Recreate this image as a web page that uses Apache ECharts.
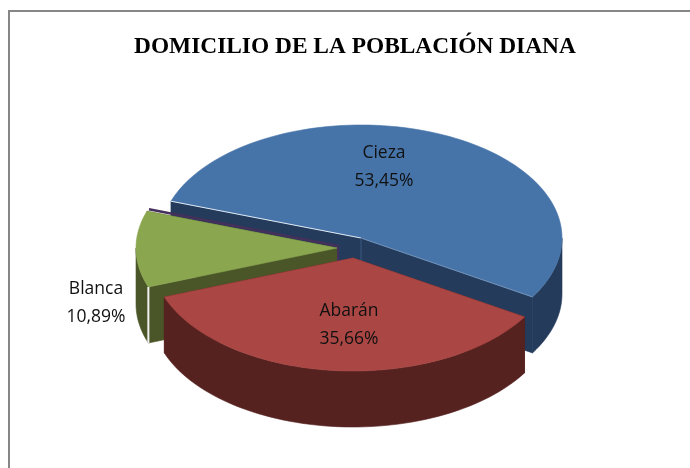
<!DOCTYPE html>
<html>
<head>
<meta charset="utf-8">
<title>Domicilio de la población Diana</title>
<style>
  html, body { margin: 0; padding: 0; background: #fff; }
  #chart { width: 690px; height: 468px; }
</style>
<script src="https://cdn.jsdelivr.net/npm/echarts@6/dist/echarts.min.js"></script>
</head>
<body>
<div id="chart"></div>
<script>
const chartTitle = 'DOMICILIO DE LA POBLACIÓN DIANA';
const categories = ['Cieza', 'Abarán', 'Blanca'];
const percentages = [53.45, 35.66, 10.89];

// the pie is drawn by hand because echarts has no 3d pie without echarts-gl
const radiusX = 201;
const radiusY = 113;
const depth = 56;
const startAngle = 161; // degrees, going clockwise

const sliceStyles = {
  Cieza:    { cx: 361, cy: 238, top: '#4674a9', side: '#243b5b', order: 0, labelX: 384, labelY: 167 },
  Blanca:   { cx: 337, cy: 248, top: '#8aa64f', side: '#4a5628', order: 1, labelX: 96, labelY: 303 },
  'Abarán': { cx: 353, cy: 258, top: '#aa4643', side: '#552220', order: 2, labelX: 349, labelY: 325 }
};

const total = percentages.reduce((a, b) => a + b, 0);

function rimPoint(s, deg, drop) {
  const r = deg * Math.PI / 180;
  return [s.cx + radiusX * Math.cos(r), s.cy - radiusY * Math.sin(r) + drop];
}

function arcPoints(s, from, to, drop) {
  const pts = [];
  const steps = Math.max(2, Math.ceil(Math.abs(from - to) / 2));
  for (let i = 0; i <= steps; i++) {
    pts.push(rimPoint(s, from + (to - from) * i / steps, drop));
  }
  return pts;
}

function polygon(points, fill, z2) {
  return {
    type: 'polygon', z2: z2, shape: { points: points },
    style: { fill: fill, stroke: fill, lineWidth: 0.6 }
  };
}

function edgeLine(a, b, color, width, z2) {
  return {
    type: 'line', z2: z2,
    shape: { x1: a[0], y1: a[1], x2: b[0], y2: b[1] },
    style: { stroke: color, lineWidth: width }
  };
}

function renderSlice(params, api) {
  const i = params.dataIndex;
  const name = categories[i];
  const s = sliceStyles[name];
  let before = 0;
  for (let k = 0; k < i; k++) before += api.value(1, k);
  const a0 = startAngle - before / total * 360;
  const a1 = a0 - api.value(1) / total * 360;
  const base = s.order * 10;
  const apex = [s.cx, s.cy];
  const apexLow = [s.cx, s.cy + depth];
  const p0 = rimPoint(s, a0, 0);
  const p1 = rimPoint(s, a1, 0);
  const children = [];

  // walls of the cut, then the outer rim on the front half, then the top
  children.push(polygon([apex, p0, rimPoint(s, a0, depth), apexLow], s.side, base + 1));
  children.push(polygon([apex, p1, rimPoint(s, a1, depth), apexLow], s.side, base + 1));
  const frontFrom = Math.min(a0, 0);
  const frontTo = Math.max(a1, -180);
  if (frontFrom > frontTo) {
    const upper = arcPoints(s, frontFrom, frontTo, 0);
    const lower = arcPoints(s, frontTo, frontFrom, depth);
    children.push(polygon(upper.concat(lower), s.side, base + 2));
  }
  children.push(polygon([apex].concat(arcPoints(s, a0, a1, 0)), s.top, base + 3));

  if (name === 'Cieza') {
    children.push(edgeLine(p0, apex, '#dfe7f0', 1, base + 4));
    children.push(edgeLine(apex, p1, '#6f8fb5', 1, base + 4));
    children.push(edgeLine(apex, [s.cx, s.cy + 30], '#3b5a80', 1, base + 4));
  }
  if (name === 'Blanca') {
    // sliver of the zero-size slice behind the green one
    children.push(edgeLine([p1[0] + 2, p1[1] - 2], [s.cx + 1, s.cy - 2], '#45305c', 2.5, base + 4));
    children.push(edgeLine([s.cx + 1, s.cy - 3], [s.cx + 1, s.cy + 14], '#45305c', 2, base + 4));
    children.push(edgeLine(p0, rimPoint(s, a0, depth), '#f2f2f2', 2, base + 4));
  }

  children.push({
    type: 'text', z2: 100,
    style: {
      x: s.labelX, y: s.labelY,
      text: name + '\n' + api.value(1).toFixed(2).replace('.', ',') + '%',
      fill: '#111', font: '17.5px "Open Sans"', lineHeight: 28,
      align: 'center', verticalAlign: 'middle'
    }
  });
  return { type: 'group', children: children };
}

const chart = echarts.init(document.getElementById('chart'), null, { renderer: 'canvas' });
chart.setOption({
  animation: false,
  title: {
    text: chartTitle,
    left: 129,
    top: 30,
    textStyle: { fontFamily: 'Liberation Serif', fontWeight: 'bold', fontSize: 23.4, color: '#000' }
  },
  graphic: [
    { type: 'line', shape: { x1: 9, y1: 11, x2: 690, y2: 11 }, style: { stroke: '#868686', lineWidth: 2 } },
    { type: 'line', shape: { x1: 9, y1: 10, x2: 9, y2: 468 }, style: { stroke: '#868686', lineWidth: 2 } }
  ],
  series: [{
    type: 'custom',
    coordinateSystem: 'none',
    renderItem: renderSlice,
    data: categories.map((name, i) => [i, percentages[i]])
  }]
});
</script>
</body>
</html>
